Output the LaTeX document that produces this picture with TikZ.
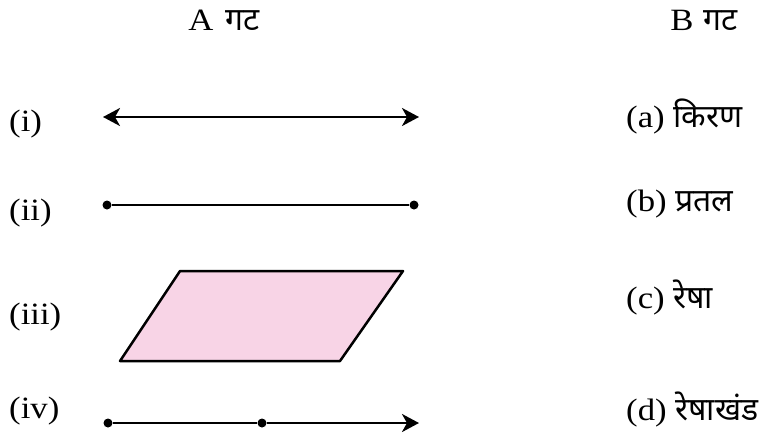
\documentclass[tikz,border=0pt]{standalone}
\usepackage{fontspec}
\setmainfont{Liberation Serif}[FakeStretch=1.12]
\newfontfamily\devfont[Script=Devanagari, Scale=1.03]{Noto Sans}
\usetikzlibrary{arrows.meta,positioning}
\definecolor{planepink}{RGB}{248,212,230}

\begin{document}
\begin{tikzpicture}[x=1pt, y=-1pt, font=\fontsize{31}{38}\selectfont,
  lbl/.style={anchor=west, inner sep=0pt},
  head/.style={inner sep=0pt},
  geo/.style={line width=2.5pt, black},
  pt/.style={circle, fill=black, inner sep=0pt, minimum size=9pt},
  tip/.style={-{Stealth[length=17pt, width=18pt, inset=5pt]}}]
\useasboundingbox (0,0) rectangle (767,445);
% headings
\node[head] (headA) at (224,20) {A\hspace{12pt}{\devfont गट}};
\node[head] (headB) at (704,20) {B\hspace{10pt}{\devfont गट}};
% left column labels
\foreach \n/\y/\t in {i/124/(i), ii/213/(ii), iii/317/(iii), iv/411/(iv)} {
  \node[lbl] (lbl-\n) at (9,\y) {\t};
}
% right column labels
\foreach \n/\y/\t in {a/116/{(a) {\devfont किरण}}, b/204/{(b) {\devfont प्रतल}}, c/297/{(c) {\devfont रेषा}}, d/409/{(d) {\devfont रेषाखंड}}} {
  \node[lbl] (opt-\n) at (626,\y) {\t};
}
% (i) line
\coordinate (lineL) at (103,117);
\coordinate (lineR) at (419,117);
\draw[geo, {Stealth[length=17pt, width=18pt, inset=5pt]}-{Stealth[length=17pt, width=18pt, inset=5pt]}] (lineL) -- (lineR);
% (ii) segment
\node[pt] (segL) at (107,205) {};
\node[pt] (segR) at (414,205) {};
\draw[geo] (segL) -- (segR);
% (iii) plane
\coordinate (pA) at (120,361);
\coordinate (pB) at (340,361);
\coordinate (pC) at (403,271);
\coordinate (pD) at (180,271);
\draw[geo, fill=planepink, line join=round] (pA) -- (pB) -- (pC) -- (pD) -- cycle;
% (iv) ray
\node[pt] (rayO) at (108,423) {};
\node[pt] (rayM) at (262,423) {};
\coordinate (rayE) at (419,423);
\draw[geo, tip] (rayO) -- (rayM) -- (rayE);
\end{tikzpicture}
\end{document}
